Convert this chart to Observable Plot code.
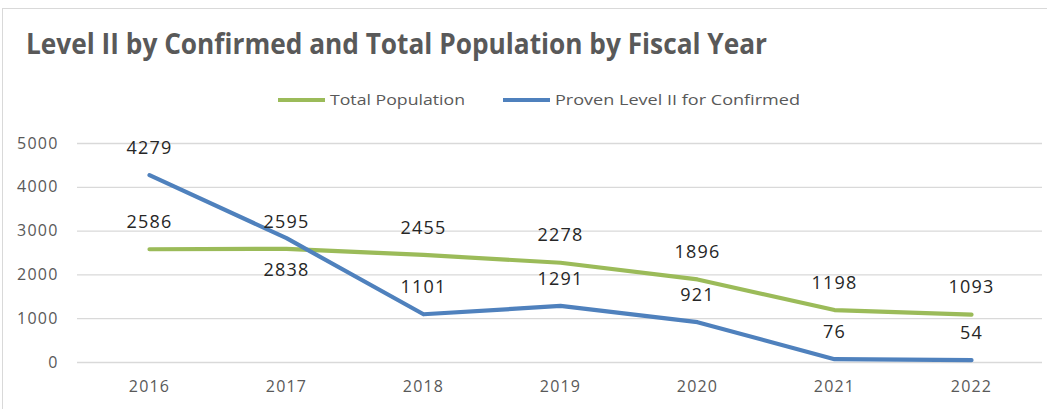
<!DOCTYPE html>
<html>
<head>
<meta charset="utf-8">
<script src="https://cdn.jsdelivr.net/npm/d3@7"></script>
<script src="https://cdn.jsdelivr.net/npm/@observablehq/plot@0.6"></script>
<style>
html, body { margin: 0; padding: 0; background: #fff; }
#wrap { position: relative; width: 1047px; height: 409px; overflow: hidden; font-family: "Open Sans", sans-serif; }
#frame { position: absolute; left: 2px; top: 8px; width: 1100px; height: 500px; border: 1px solid #d9d9d9; box-sizing: border-box; }
#head { position: absolute; left: 0; top: 0; }
#chart { position: absolute; left: 0; top: 120px; }
#chart svg text { letter-spacing: 1.2px; }
</style>
</head>
<body>
<div id="wrap">
  <div id="frame"></div>
  <svg id="head" width="1047" height="120"></svg>
  <div id="chart"></div>
</div>
<script>
// ---- data ----
const title = "Level II by Confirmed and Total Population by Fiscal Year";
const years = ["2016", "2017", "2018", "2019", "2020", "2021", "2022"];
const seriesNames = ["Total Population", "Proven Level II for Confirmed"];
const totalPopulation = [2586, 2595, 2455, 2278, 1896, 1198, 1093];
const provenLevelII = [4279, 2838, 1101, 1291, 921, 76, 54];
const yTicks = [0, 1000, 2000, 3000, 4000, 5000];
const seriesColors = ["#9bbb59", "#4f81bd"];

// ---- table ----
const data = years.flatMap((yr, i) => [
  {year: yr, value: totalPopulation[i], series: seriesNames[0]},
  {year: yr, value: provenLevelII[i], series: seriesNames[1]}
]);
// Excel placed this one label beneath its point
const isBelow = d => d.series === seriesNames[1] && d.year === "2017";

// ---- header: title + legend ----
const head = d3.select("#head");
head.append("text")
  .attr("x", 26).attr("y", 54)
  .attr("font-family", '"Open Sans", sans-serif')
  .attr("font-weight", 700)
  .attr("font-size", 28)
  .attr("fill", "#595959")
  .attr("textLength", 741)
  .attr("lengthAdjust", "spacingAndGlyphs")
  .text(title);

const legendItems = [
  {name: seriesNames[0], color: seriesColors[0], x0: 278, len: 135},
  {name: seriesNames[1], color: seriesColors[1], x0: 503, len: 245}
];
legendItems.forEach(it => {
  head.append("line")
    .attr("x1", it.x0).attr("x2", it.x0 + 47)
    .attr("y1", 100).attr("y2", 100)
    .attr("stroke", it.color).attr("stroke-width", 4);
  head.append("text")
    .attr("x", it.x0 + 52).attr("y", 105)
    .attr("font-family", '"Open Sans", sans-serif')
    .attr("font-size", 15)
    .attr("fill", "#595959")
    .attr("textLength", it.len)
    .attr("lengthAdjust", "spacingAndGlyphs")
    .text(it.name);
});

// ---- chart ----
const chart = Plot.plot({
  width: 1047,
  height: 289,
  marginTop: 23,
  marginBottom: 47,
  marginLeft: 77,
  marginRight: 5,
  style: {fontFamily: '"Open Sans", sans-serif', fontSize: "16px", color: "#595959", background: "transparent", overflow: "visible"},
  x: {type: "point", domain: years, padding: 0.5, label: null, tickSize: 0, tickPadding: 18},
  y: {domain: [0, 5000], ticks: yTicks, tickFormat: d => String(d), label: null, tickSize: 0, tickPadding: 19},
  color: {domain: seriesNames, range: seriesColors},
  marks: [
    Plot.ruleY(yTicks, {stroke: "#d9d9d9", strokeWidth: 1.3}),
    Plot.line(data, {x: "year", y: "value", z: "series", stroke: "series", strokeWidth: 4.2, strokeLinejoin: "round"}),
    Plot.text(data.filter(d => !isBelow(d)), {x: "year", y: "value", text: d => String(d.value), dy: -27, fill: "#262626", fontSize: 18}),
    Plot.text(data.filter(isBelow), {x: "year", y: "value", text: d => String(d.value), dy: 32, fill: "#262626", fontSize: 18})
  ]
});
document.getElementById("chart").appendChild(chart);
</script>
</body>
</html>
